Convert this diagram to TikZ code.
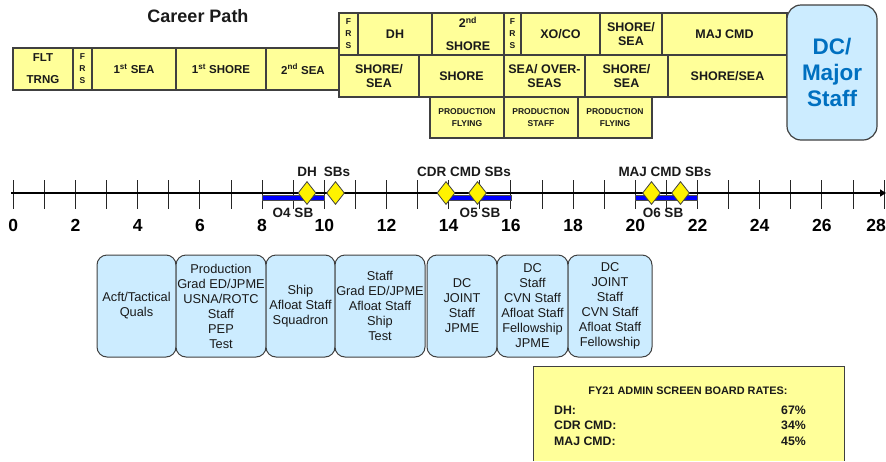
\documentclass[tikz,border=0pt]{standalone}
\usepackage{fontspec}
\setmainfont{Liberation Sans}
\usetikzlibrary{shapes.geometric,arrows.meta}
\definecolor{yel}{HTML}{FFFF99}
\definecolor{lblue}{HTML}{CCECFF}
\definecolor{dcblue}{HTML}{0070C0}
\definecolor{edge}{HTML}{404040}
\definecolor{txt}{HTML}{1A1A1A}
\newcommand{\fsz}[2]{\fontsize{#1}{#2}\selectfont}
\begin{document}
\begin{tikzpicture}[x=1pt,y=-1pt,
  ybox/.style={draw=edge, line width=1.1pt, fill=yel, inner sep=0pt, align=center, text=txt, font=\bfseries\fsz{12.5}{14}},
  lbox/.style={ybox, font=\bfseries\fsz{11.5}{13}},
  frsbox/.style={ybox, font=\bfseries\fsz{8.5}{12}},
  pbox/.style={ybox, font=\bfseries\fsz{8.5}{11.5}},
  bbox/.style={draw=edge, line width=1pt, fill=lblue, rounded corners=10pt, inner sep=0pt, align=center, text=txt, font=\fsz{12.8}{15}, minimum height=102},
  dia/.style={diamond, draw=edge, line width=0.8pt, fill=yellow, inner sep=0pt, minimum width=18, minimum height=23},
  tlab/.style={font=\bfseries\fsz{13.5}{15}, text=txt, inner sep=0pt},
  num/.style={font=\bfseries\fsz{17.5}{19}, text=black, inner sep=0pt},
  rtxt/.style={font=\bfseries\fsz{12.3}{13}, text=txt, inner sep=0pt}
]
\useasboundingbox (0,0) rectangle (886,461);

% title
\node[font=\bfseries\fsz{18}{20}, text=txt] (title) at (198,16) {Career Path};

% left row
\node[lbox, minimum width=60, minimum height=42] (flt) at (43,69) {FLT\\[9pt]TRNG};
\node[frsbox, minimum width=19, minimum height=42] (frs1) at (82.5,69) {F\\R\\S};
\node[lbox, minimum width=84, minimum height=42] (sea1) at (134,69) {1\textsuperscript{st} SEA};
\node[lbox, minimum width=90, minimum height=42] (shore1) at (221,69) {1\textsuperscript{st} SHORE};
\node[lbox, minimum width=74, minimum height=42] (sea2) at (303,69) {2\textsuperscript{nd} SEA};

% right upper row
\node[frsbox, minimum width=19, minimum height=42] (frs2) at (348.5,34) {F\\R\\S};
\node[ybox, minimum width=74, minimum height=42] (dh) at (395,34) {DH};
\node[ybox, minimum width=72, minimum height=42] (shore2) at (468,34) {2\textsuperscript{nd}\\[9pt]SHORE};
\node[frsbox, minimum width=17, minimum height=42] (frs3) at (512.5,34) {F\\R\\S};
\node[ybox, minimum width=79, minimum height=42] (xoco) at (560.5,34) {XO/CO};
\node[ybox, minimum width=62, minimum height=42] (shsea1) at (631,34) {SHORE/\\SEA};
\node[ybox, minimum width=125, minimum height=42] (majcmd) at (724.5,34) {MAJ CMD};

% right lower row
\node[ybox, minimum width=80, minimum height=42] (shsea2) at (379,76) {SHORE/\\SEA};
\node[ybox, minimum width=85, minimum height=42] (shore3) at (461.5,76) {SHORE};
\node[ybox, minimum width=81, minimum height=42] (seaover) at (544.5,76) {SEA/ OVER-\\SEAS};
\node[ybox, minimum width=83, minimum height=42] (shsea3) at (626.5,76) {SHORE/\\SEA};
\node[ybox, minimum width=119, minimum height=42] (shsea4) at (727.5,76) {SHORE/SEA};

% production row
\node[pbox, minimum width=74, minimum height=41] (pf1) at (467,117.5) {PRODUCTION\\FLYING};
\node[pbox, minimum width=74, minimum height=41] (ps) at (541,117.5) {PRODUCTION\\STAFF};
\node[pbox, minimum width=74, minimum height=41] (pf2) at (615,117.5) {PRODUCTION\\FLYING};

% DC box
\node[draw=edge, line width=1.2pt, fill=lblue, rounded corners=14pt, minimum width=90, minimum height=135, inner sep=0pt, align=center, text=dcblue, font=\bfseries\fsz{22.5}{26}] (dc) at (832,72.5) {DC/\\Major\\Staff};

% timeline
\coordinate (tl0) at (11,193);
\coordinate (tlend) at (886,193);
\foreach \t in {0,...,28}{
  \draw[line width=0.9pt, black!85] ({13.3+31.1*\t},180) -- ({13.3+31.1*\t},209);
}
\foreach \t in {0,2,...,26}{
  \node[num] (n\t) at ({13.3+31.1*\t},225) {\t};
}
\node[num, anchor=east] (n28) at (886,225) {28};
\draw[line width=1.8pt, -{Triangle[length=6pt,width=7pt]}] (tl0) -- (tlend);

% blue bars
\fill[blue, draw=black!70, line width=0.5pt] ({13.3+31.1*8},195.5) rectangle ({13.3+31.1*10},200.5);
\fill[blue, draw=black!70, line width=0.5pt] ({13.3+31.1*14},195.5) rectangle ({13.3+31.1*16},200.5);
\fill[blue, draw=black!70, line width=0.5pt] ({13.3+31.1*20},195.5) rectangle ({13.3+31.1*22},200.5);

% diamonds
\node[dia] (d1) at (307,193) {};
\node[dia] (d2) at (335.5,193) {};
\node[dia] (d3) at (446,193) {};
\node[dia] (d4) at (477.5,193) {};
\node[dia] (d5) at (651.5,193) {};
\node[dia] (d6) at (680.5,193) {};

% timeline labels
\node[tlab] (ldh) at (307,172) {DH};
\node[tlab] (lsb) at (337,172) {SBs};
\node[tlab] (lcdr) at (464,172) {CDR CMD SBs};
\node[tlab] (lmaj) at (665,172) {MAJ CMD SBs};
\node[tlab] (o4) at (293,213) {O4 SB};
\node[tlab] (o5) at (480,213) {O5 SB};
\node[tlab] (o6) at (663,213) {O6 SB};

% bottom boxes
\node[bbox, minimum width=79] (b1) at (136.5,306) {Acft/Tactical\\Quals};
\node[bbox, minimum width=90] (b2) at (221,306) {Production\\Grad ED/JPME\\USNA/ROTC\\Staff\\PEP\\Test};
\node[bbox, minimum width=69] (b3) at (300.5,306) {Ship\\Afloat Staff\\Squadron};
\node[bbox, minimum width=90] (b4) at (380,306) {Staff\\Grad ED/JPME\\Afloat Staff\\Ship\\Test};
\node[bbox, minimum width=70] (b5) at (462,306) {DC\\JOINT\\Staff\\JPME};
\node[bbox, minimum width=71] (b6) at (532.5,306) {DC\\Staff\\CVN Staff\\Afloat Staff\\Fellowship\\JPME};
\node[bbox, minimum width=84] (b7) at (610,306) {DC\\JOINT\\Staff\\CVN Staff\\Afloat Staff\\Fellowship};

% rates box
\node[fill=yel, minimum width=310, minimum height=94, inner sep=0pt] (rates) at (689,414) {};
\draw[edge, line width=1pt] (rates.south west) -- (rates.north west) -- (rates.north east) -- (rates.south east);
\node[rtxt, font=\bfseries\fsz{10.9}{12}] (rtitle) at (688,391) {FY21 ADMIN SCREEN BOARD RATES:};
\node[rtxt, anchor=west] (rdh) at (554,410) {DH:};
\node[rtxt, anchor=west] (rcdr) at (554,425.5) {CDR CMD:};
\node[rtxt, anchor=west] (rmaj) at (554,441) {MAJ CMD:};
\node[rtxt, anchor=east] (vdh) at (806,410) {67\%};
\node[rtxt, anchor=east] (vcdr) at (806,425.5) {34\%};
\node[rtxt, anchor=east] (vmaj) at (806,441) {45\%};
\end{tikzpicture}
\end{document}
